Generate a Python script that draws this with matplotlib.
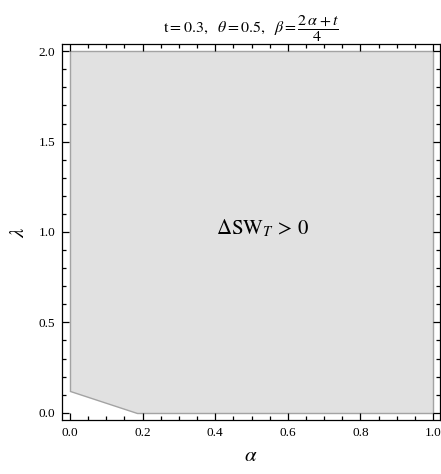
import matplotlib
matplotlib.use('Agg')
import matplotlib.pyplot as plt
from matplotlib.ticker import MultipleLocator

# Fronteira da região ΔSW_T > 0
regiao_alpha = [0.0, 0.0, 1.0, 1.0, 0.185]
regiao_lambda = [0.12, 2.0, 2.0, 0.0, 0.0]

ticks_x = [0.0, 0.2, 0.4, 0.6, 0.8, 1.0]
ticks_y = [0.0, 0.5, 1.0, 1.5, 2.0]

plt.rcParams['font.family'] = ['Liberation Serif', 'DejaVu Serif']
plt.rcParams['mathtext.fontset'] = 'stix'

fig = plt.figure(figsize=(4.41, 4.74), dpi=100)
ax = fig.add_axes([62/441, 1 - 420/474, (440 - 62)/441, (420 - 44)/474])

ax.fill(regiao_alpha, regiao_lambda, facecolor='#e1e1e1', edgecolor='#a3a3a3', linewidth=1.0)

ax.set_xlim(-0.022, 1.019)
ax.set_ylim(-0.04, 2.04)
ax.set_xticks(ticks_x)
ax.set_yticks(ticks_y)
ax.set_xticklabels([f'{v:.1f}' for v in ticks_x])
ax.set_yticklabels([f'{v:.1f}' for v in ticks_y])
ax.xaxis.set_minor_locator(MultipleLocator(0.05))
ax.yaxis.set_minor_locator(MultipleLocator(0.1))
ax.tick_params(which='both', direction='in', top=True, right=True, labelsize=9.5, width=0.9)
ax.tick_params(which='major', length=5, pad=5)
ax.tick_params(which='minor', length=3)
for s in ax.spines.values():
    s.set_linewidth(0.9)

ax.text(0.53, 1.02, r'$\Delta\mathrm{SW}_T\,>\,0$', fontsize=15, ha='center', va='center')

ax.set_title(r'$\mathrm{t{=}0.3,}\ \ \theta\mathrm{=0.5,}\ \ \beta\mathrm{=}\dfrac{2\,\alpha+t}{4}$',
             fontsize=11.5, pad=3)
ax.set_xlabel(r'$\alpha$', fontsize=15, labelpad=6)
ax.set_ylabel(r'$\lambda$', fontsize=15, labelpad=7)

plt.savefig('out.png', dpi=100)
plt.close()
